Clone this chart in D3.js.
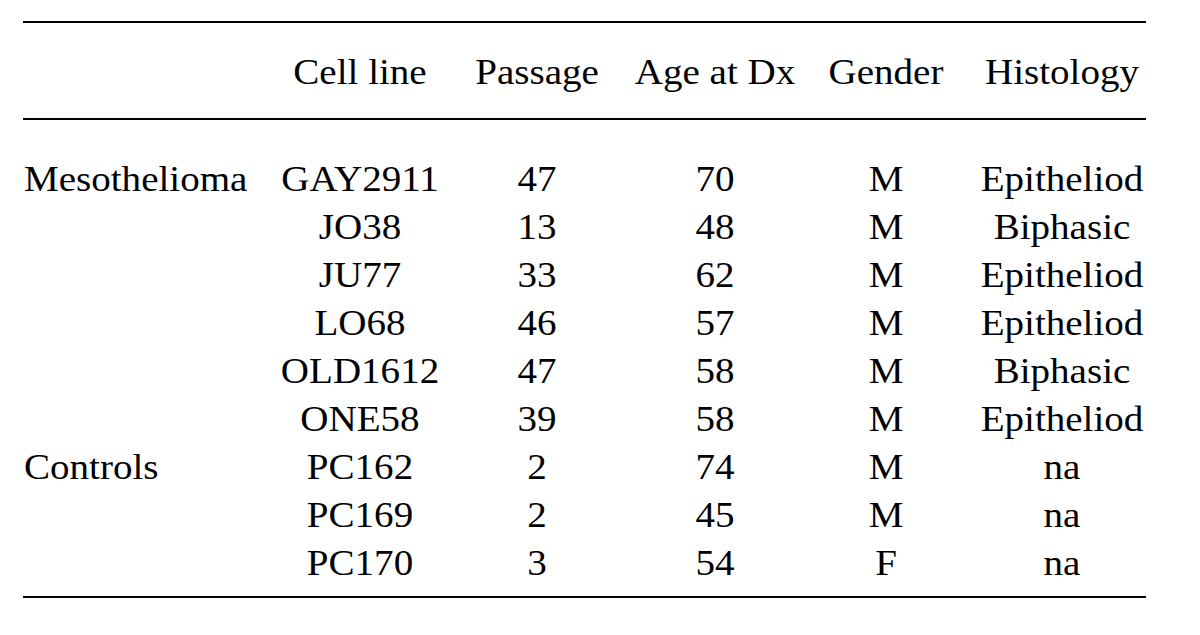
<!DOCTYPE html>
<html><head><meta charset="utf-8">
<script src="https://cdn.jsdelivr.net/npm/d3@7"></script>
<style>body{margin:0;background:#fff;} svg{display:block;}</style>
</head><body>
<svg id="c" width="1200" height="635"></svg>
<script>
const headers = ["", "Cell line", "Passage", "Age at Dx", "Gender", "Histology"];
const groups = ["Mesothelioma", "", "", "", "", "", "Controls", "", ""];
const cellLines = ["GAY2911", "JO38", "JU77", "LO68", "OLD1612", "ONE58", "PC162", "PC169", "PC170"];
const passage = [47, 13, 33, 46, 47, 39, 2, 2, 3];
const ageAtDx = [70, 48, 62, 57, 58, 58, 74, 45, 54];
const gender = ["M", "M", "M", "M", "M", "M", "M", "M", "F"];
const histology = ["Epitheliod", "Biphasic", "Epitheliod", "Epitheliod", "Biphasic", "Epitheliod", "na", "na", "na"];

const svg = d3.select("#c");
const font = "'Liberation Serif', 'Times New Roman', serif";
const fs = 36;
const sx = 1.085;
const colCenters = [24, 360, 537, 715, 886, 1062];
const anchors = ["start", "middle", "middle", "middle", "middle", "middle"];

const y = d3.scaleBand().domain(d3.range(cellLines.length)).range([155, 587]);

const rule = (yy) => svg.append("line").attr("x1", 23).attr("x2", 1146)
  .attr("y1", yy).attr("y2", yy).attr("stroke", "#000").attr("stroke-width", 2);
rule(22); rule(119); rule(597);

svg.selectAll("text.h").data(headers).enter().append("text")
  .attr("class", "h")
  .attr("transform", (d, i) => `translate(${colCenters[i]},84) scale(${sx},1)`)
  .attr("text-anchor", (d, i) => anchors[i])
  .style("font-family", font).style("font-size", fs + "px").attr("fill", "#000")
  .text(d => d);

const rows = cellLines.map((c, i) => [groups[i], c, passage[i], ageAtDx[i], gender[i], histology[i]]);
const rg = svg.selectAll("g.r").data(rows).enter().append("g")
  .attr("transform", (d, i) => `translate(0,${y(i) + y.bandwidth() / 2 + 12})`);
rg.selectAll("text").data(d => d).enter().append("text")
  .attr("transform", (d, i) => `translate(${colCenters[i]},0) scale(${sx},1)`)
  .attr("text-anchor", (d, i) => anchors[i])
  .style("font-family", font).style("font-size", fs + "px").attr("fill", "#000")
  .text(d => d);
</script>
</body></html>
